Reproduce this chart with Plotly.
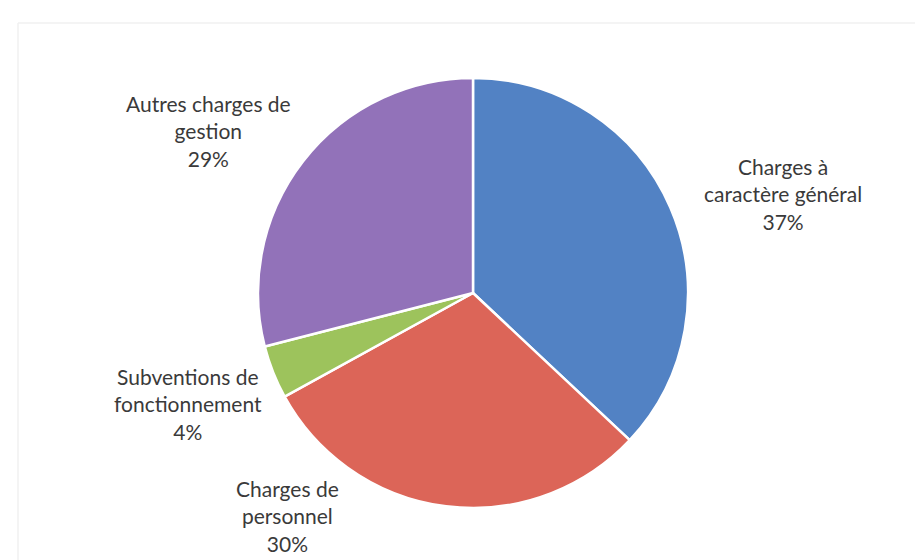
import plotly.graph_objects as go

labels = ["Charges à<br>caractère général", "Charges de<br>personnel",
          "Subventions de<br>fonctionnement", "Autres charges de<br>gestion"]
values = [37, 30, 4, 29]
colors = ["#5282C4", "#DC6558", "#9DC35C", "#9272B9"]

# label anchor positions (paper coords)
label_pos = [(775 / 923, 1 - 186 / 560), (279 / 923, 1 - 508 / 560),
             (180 / 923, 1 - 396 / 560), (200 / 923, 1 - 123 / 560)]

cx, cy, r = 465, 285, 215
W, H = 923, 560

fig = go.Figure(go.Pie(
    labels=labels, values=values, sort=False, direction="clockwise", rotation=0,
    marker=dict(colors=colors, line=dict(color="white", width=2.5)),
    textinfo="none", hoverinfo="label+percent", showlegend=False,
    domain=dict(x=[(cx - r) / W, (cx + r) / W], y=[1 - (cy + r) / H, 1 - (cy - r) / H]),
))

total = sum(values)
for lab, v, (px, py) in zip(labels, values, label_pos):
    fig.add_annotation(x=px, y=py, xref="paper", yref="paper", showarrow=False,
                       text=f"{lab}<br>{round(100 * v / total)}%",
                       font=dict(family="Lato, Carlito, sans-serif", size=21, color="#3A3A3A"),
                       align="center", xanchor="center", yanchor="middle")

# faint frame (top and left edges)
fig.add_shape(type="line", xref="paper", yref="paper",
              x0=10 / W, x1=912 / W, y0=1 - 15 / H, y1=1 - 15 / H,
              line=dict(color="#F0F0F0", width=1.5))
fig.add_shape(type="line", xref="paper", yref="paper",
              x0=10 / W, x1=10 / W, y0=0, y1=1 - 15 / H,
              line=dict(color="#F0F0F0", width=1.5))

fig.update_layout(width=W, height=H, margin=dict(l=0, r=0, t=0, b=0),
                  paper_bgcolor="white", plot_bgcolor="white")
fig.write_html("out.html")
